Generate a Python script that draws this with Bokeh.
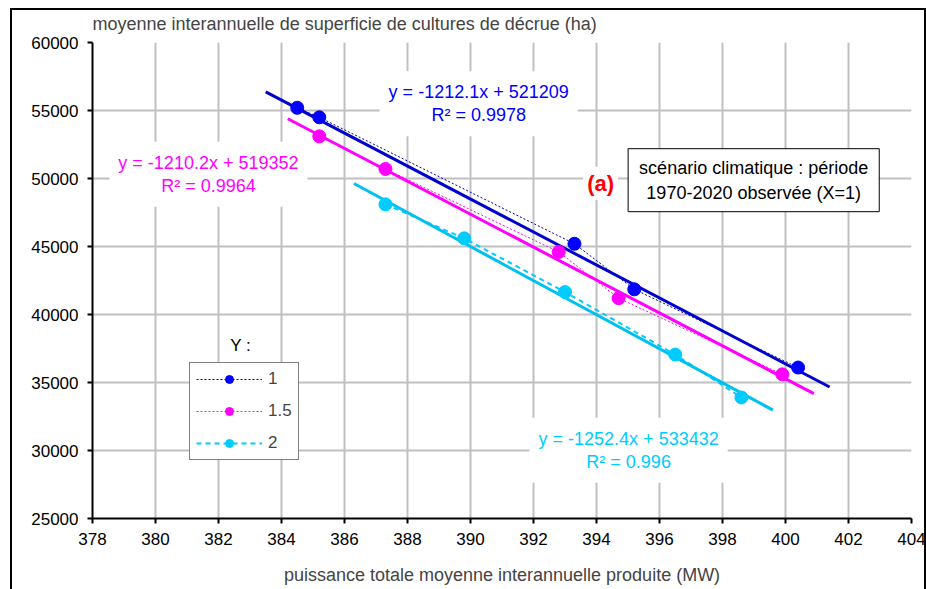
from bokeh.plotting import figure
from bokeh.models import (Range1d, SingleIntervalTicker, NumeralTickFormatter, Label,
                          Legend, LegendItem, InlineStyleSheet)
from bokeh.embed import file_html
from bokeh.resources import INLINE
import numpy as np

FONT = "Liberation Sans"

# ---- data ----
series_names = ["1", "1.5", "2"]
x_y1 = [384.5, 385.2, 393.3, 395.2, 400.4]
y_y1 = [55200, 54500, 45200, 41850, 36100]
x_y15 = [385.2, 387.3, 392.8, 394.7, 399.9]
y_y15 = [53100, 50700, 44600, 41200, 35600]
x_y2 = [387.3, 389.8, 393.0, 396.5, 398.6]
y_y2 = [48100, 45600, 41650, 37050, 33900]
slopes = [-1212.1, -1210.2, -1252.4]
intercepts = [521209, 519352, 533432]
r2 = ["0.9978", "0.9964", "0.996"]
x_ticks_range = (378, 404)
y_ticks_range = (25000, 60000)

colors = ["#0000FF", "#FF00FF", "#00CCFF"]
trend_colors = ["#0000CC", "#FF00FF", "#00C0F0"]
dashes = ["2 2", "2 2", "5 4"]
dash_widths = [1, 1, 2]

border_css = InlineStyleSheet(css="""
:host::after {
  content: "";
  position: absolute;
  left: 10px; top: 8px;
  width: 916px; height: 581px;
  border-left: 2px solid black; border-top: 2px solid black; border-right: 2px solid black;
  box-sizing: border-box;
  pointer-events: none;
}
""")

p = figure(width=926, height=589, output_backend="svg", toolbar_location=None,
           x_range=Range1d(*x_ticks_range), y_range=Range1d(*y_ticks_range),
           min_border_left=92, min_border_right=15, min_border_top=42, min_border_bottom=71,
           stylesheets=[border_css])
p.outline_line_color = None
p.background_fill_color = "white"
p.border_fill_color = "white"

p.xaxis.ticker = SingleIntervalTicker(interval=2, num_minor_ticks=0)
p.yaxis.ticker = SingleIntervalTicker(interval=5000, num_minor_ticks=0)
p.yaxis.formatter = NumeralTickFormatter(format="0")
for ax in (p.xaxis, p.yaxis):
    ax.axis_line_color = "black"
    ax.axis_line_width = 2
    ax.major_tick_line_color = "black"
    ax.major_tick_line_width = 2
    ax.major_tick_out = 5
    ax.major_tick_in = 0
    ax.minor_tick_line_color = None
    ax.major_label_text_font = FONT
    ax.major_label_text_font_size = "17px"
    ax.major_label_text_color = "black"
p.xaxis.major_label_standoff = 9
p.yaxis.major_label_standoff = 9

p.xaxis.axis_label = "puissance totale moyenne interannuelle produite (MW)"
p.xaxis.axis_label_text_font = FONT
p.xaxis.axis_label_text_font_size = "18px"
p.xaxis.axis_label_text_font_style = "normal"
p.xaxis.axis_label_standoff = 17

p.title.text = "moyenne interannuelle de superficie de cultures de décrue (ha)"
p.title.text_font = FONT
p.title.text_font_size = "18px"
p.title.text_font_style = "normal"
p.title.align = "left"
p.title.offset = 0
p.title.standoff = 18

p.grid.grid_line_color = "#c0c0c0"
p.grid.grid_line_width = 2

xs = [x_y1, x_y15, x_y2]
ys = [y_y1, y_y15, y_y2]
items = []
for i in range(3):
    lr = p.line(xs[i], ys[i], line_color=colors[i] if i else "#000099",
                line_dash=dashes[i], line_width=dash_widths[i])
    a = min(xs[i]) - 1
    b = max(xs[i]) + 1
    tx = np.array([a, b])
    p.line(tx, slopes[i] * tx + intercepts[i], line_color=trend_colors[i], line_width=3)
    sr = p.scatter(xs[i], ys[i], size=13, fill_color=colors[i], line_color=colors[i])
    items.append(LegendItem(label=series_names[i], renderers=[lr, sr]))

legend = Legend(items=items, location=(97, 58), border_line_color="black",
                border_line_width=1, background_fill_color="white", background_fill_alpha=1,
                padding=6, spacing=12, glyph_width=66, glyph_height=20, label_standoff=6,
                label_text_font=FONT, label_text_font_size="17px", margin=0)
p.add_layout(legend)

# equation labels
eq_pos = [(390.26, 55500), (381.68, 50316), (395.02, 30022)]
for i in range(3):
    txt = "y = %sx + %d\nR² = %s" % (slopes[i], intercepts[i], r2[i])
    p.add_layout(Label(x=eq_pos[i][0], y=eq_pos[i][1], text=txt, text_align="center",
                       text_baseline="middle", text_color=colors[i], text_font=FONT,
                       text_font_size="18px", text_line_height=1.15,
                       background_fill_color="white",
                       padding=dict(left=9, right=9, top=11, bottom=11)))

p.add_layout(Label(x=394.13, y=49654, text="(a)", text_align="center", text_baseline="middle",
                   text_color="#FF0000", text_font=FONT, text_font_size="22px",
                   text_font_style="bold", background_fill_color="white", padding=4))

p.add_layout(Label(x=398.99, y=49875, text="scénario climatique : période\n1970-2020 observée (X=1)",
                   text_align="center", text_baseline="middle", text_color="black",
                   text_font=FONT, text_font_size="18px", text_line_height=1.25,
                   background_fill_color="white", border_line_color="black",
                   border_line_width=1, padding=dict(left=11, right=11, top=9, bottom=9)))

p.add_layout(Label(x=382.7, y=37742, text="Y :", text_align="center", text_baseline="middle",
                   text_color="black", text_font=FONT, text_font_size="17px"))

open("out.html", "w").write(file_html(p, INLINE))
